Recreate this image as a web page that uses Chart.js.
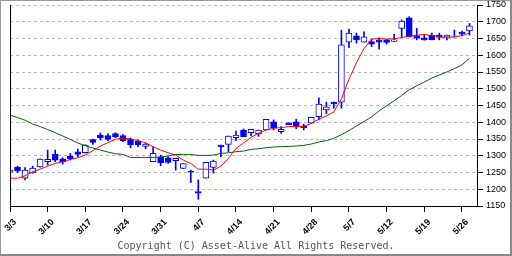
<!DOCTYPE html>
<html>
<head>
<meta charset="utf-8">
<script src="https://cdn.jsdelivr.net/npm/chart.js@4/dist/chart.umd.min.js"></script>
<style>
  html, body { margin: 0; padding: 0; background: #fff; }
  #wrap { position: relative; width: 512px; height: 256px; }
  #frame {
    position: absolute; left: 0; top: 0; width: 512px; height: 256px; box-sizing: border-box;
    border-top: 1px solid #999; border-left: 1px solid #999;
    border-right: 2px solid #888; border-bottom: 2px solid #888; pointer-events: none;
  }
  #copy {
    position: absolute; left: 0; top: 240px; width: 512px; text-align: center;
    font: 10px "DejaVu Sans Mono", monospace; color: #555;
  }
</style>
</head>
<body>
<div id="wrap">
  <canvas id="chart" width="512" height="256"></canvas>
  <div id="copy">Copyright (C) Asset-Alive All Rights Reserved.</div>
  <div id="frame"></div>
</div>
<script>
// one tick every 5 sessions, labelled with the first trading day of that week
const tickLabels = ["3/3", "3/10", "3/17", "3/24", "3/31", "4/7", "4/14", "4/21", "4/28", "5/7", "5/12", "5/19", "5/26"];

// daily candles
const opens  = [1251, 1266, 1233, 1249, 1267, 1282, 1305, 1291, 1299, 1312, 1309, 1348, 1362, 1360, 1366, 1360,
                1350, 1344, 1328, 1282, 1297, 1294, 1285, 1262, 1254, 1193, 1233, 1265, 1332, 1334, 1354, 1377,
                1369, 1365, 1377, 1401, 1372, 1398, 1401, 1389, 1397, 1417, 1437, 1460, 1460, 1639, 1658, 1639,
                1641, 1645, 1646, 1641, 1680, 1712, 1658, 1652, 1660, 1660, 1654, 1657, 1669, 1673];
const closes = [1257, 1255, 1257, 1263, 1290, 1289, 1287, 1282, 1291, 1304, 1332, 1340, 1353, 1349, 1357, 1345,
                1333, 1333, 1335, 1307, 1279, 1280, 1292, 1277, 1251, 1188, 1280, 1284, 1327, 1359, 1362, 1357,
                1379, 1377, 1409, 1383, 1379, 1393, 1387, 1384, 1415, 1454, 1446, 1455, 1631, 1666, 1646, 1655,
                1633, 1639, 1638, 1646, 1702, 1655, 1651, 1646, 1646, 1654, 1660, 1658, 1663, 1688];
const highs  = [1258, 1269, 1265, 1269, 1291, 1317, 1317, 1294, 1307, 1320, 1333, 1350, 1368, 1366, 1369, 1363,
                1353, 1347, 1337, 1327, 1302, 1297, 1292, 1277, 1257, 1228, 1280, 1287, 1332, 1359, 1374, 1380,
                1379, 1377, 1409, 1407, 1387, 1398, 1409, 1394, 1415, 1473, 1460, 1460, 1675, 1678, 1666, 1670,
                1648, 1652, 1648, 1663, 1705, 1715, 1680, 1662, 1666, 1666, 1660, 1675, 1672, 1695];
const lows   = [1250, 1250, 1228, 1248, 1266, 1272, 1282, 1275, 1287, 1297, 1308, 1334, 1347, 1344, 1354, 1342,
                1324, 1327, 1321, 1282, 1270, 1277, 1257, 1262, 1220, 1170, 1233, 1248, 1297, 1312, 1345, 1357,
                1360, 1358, 1377, 1377, 1367, 1393, 1381, 1377, 1397, 1407, 1425, 1442, 1442, 1623, 1636, 1639,
                1626, 1618, 1633, 1641, 1655, 1655, 1646, 1645, 1646, 1646, 1646, 1655, 1658, 1660];

// moving averages as drawn
const maShort = [1233, 1233, 1240, 1252, 1260, 1269, 1277, 1282, 1289, 1294, 1302, 1315, 1329, 1339, 1349, 1353,
                 1350, 1345, 1339, 1327, 1317, 1309, 1302, 1287, 1277, 1260, 1260, 1257, 1269, 1292, 1322, 1338,
                 1355, 1367, 1377, 1382, 1384, 1387, 1387, 1387, 1397, 1409, 1419, 1431, 1470, 1528, 1578, 1620,
                 1648, 1650, 1648, 1649, 1653, 1657, 1660, 1662, 1659, 1654, 1654, 1654, 1659, 1666];
const maLong  = [1421, 1414, 1406, 1395, 1387, 1378, 1369, 1359, 1349, 1338, 1330, 1323, 1317, 1311, 1306, 1304,
                 1295, 1295, 1295, 1295, 1296, 1299, 1304, 1304, 1304, 1301, 1301, 1302, 1307, 1309, 1312, 1314,
                 1319, 1321, 1324, 1326, 1327, 1328, 1329, 1331, 1335, 1341, 1345, 1352, 1363, 1375, 1389, 1402,
                 1416, 1434, 1449, 1464, 1480, 1497, 1509, 1520, 1532, 1541, 1550, 1560, 1571, 1591];

const yTicks = [1150, 1200, 1250, 1300, 1350, 1400, 1450, 1500, 1550, 1600, 1650, 1700, 1750];

const blue = '#0000ff';
const bodies = opens.map((o, i) => ({ x: i, y: [o, closes[i]] }));
const wicks = lows.map((l, i) => ({ x: i, y: [l, highs[i]] }));
const bodyFill = opens.map((o, i) => closes[i] >= o ? '#ffffff' : blue);

// black line down the left edge of the plot
const leftLine = {
    id: 'leftLine',
    afterDraw(chart) {
        const { ctx, chartArea } = chart;
        ctx.save();
        ctx.strokeStyle = '#000';
        ctx.lineWidth = 1;
        ctx.beginPath();
        ctx.moveTo(Math.round(chartArea.left) + 0.5, chartArea.top);
        ctx.lineTo(Math.round(chartArea.left) + 0.5, chartArea.bottom);
        ctx.stroke();
        ctx.restore();
    }
};

new Chart(document.getElementById('chart'), {
    type: 'bar',
    data: {
        datasets: [
            { type: 'line', data: maShort.map((v, i) => ({ x: i, y: v })), borderColor: '#ff0000', borderWidth: 1,
              pointRadius: 0, pointHitRadius: 0, tension: 0, order: 0 },
            { type: 'line', data: maLong.map((v, i) => ({ x: i, y: v })), borderColor: '#006400', borderWidth: 1,
              pointRadius: 0, pointHitRadius: 0, tension: 0, order: 1 },
            { data: bodies, backgroundColor: bodyFill, borderColor: blue, borderWidth: 1, borderSkipped: false,
              barThickness: 6, grouped: false, order: 2 },
            { data: wicks, backgroundColor: blue, borderWidth: 0, barThickness: 1, grouped: false, order: 3 },
        ],
    },
    options: {
        responsive: false,
        animation: false,
        layout: { padding: { top: 5, left: 10, right: 0, bottom: 0 }, autoPadding: false },
        plugins: { legend: { display: false }, tooltip: { enabled: false } },
        scales: {
            x: {
                type: 'linear',
                offset: false,
                min: 0,
                max: 62,
                afterBuildTicks: (s) => { s.ticks = tickLabels.map((_, k) => ({ value: k * 5 })); },
                afterFit: (s) => { s.height = 50; s.paddingLeft = 0; s.paddingRight = 0; },
                grid: { offset: false, drawOnChartArea: false, drawTicks: true, tickLength: 6, tickColor: '#000' },
                border: { color: '#000', width: 1 },
                ticks: {
                    autoSkip: false, minRotation: 45, maxRotation: 45, padding: 5, labelOffset: 5,
                    color: '#000', font: { family: 'Liberation Sans', size: 9, weight: 'bold' },
                    callback: (v) => tickLabels[v / 5],
                },
            },
            y: {
                position: 'right',
                min: 1150,
                max: 1750,
                afterBuildTicks: (s) => { s.ticks = yTicks.map(v => ({ value: v })); },
                afterFit: (s) => { s.width = 35; s.paddingTop = 0; s.paddingBottom = 0; },
                grid: {
                    color: (c) => c.tick && c.tick.value === 1150 ? 'rgba(0,0,0,0)' : '#b4b4b4',
                    tickColor: '#000', tickLength: 6, tickBorderDash: [],
                },
                border: { color: '#000', width: 1, dash: [3, 3] },
                ticks: { color: '#000', padding: 3, font: { family: 'Liberation Sans', size: 9 },
                         callback: (v) => String(v) },
            },
        },
    },
    plugins: [leftLine],
});
</script>
</body>
</html>
